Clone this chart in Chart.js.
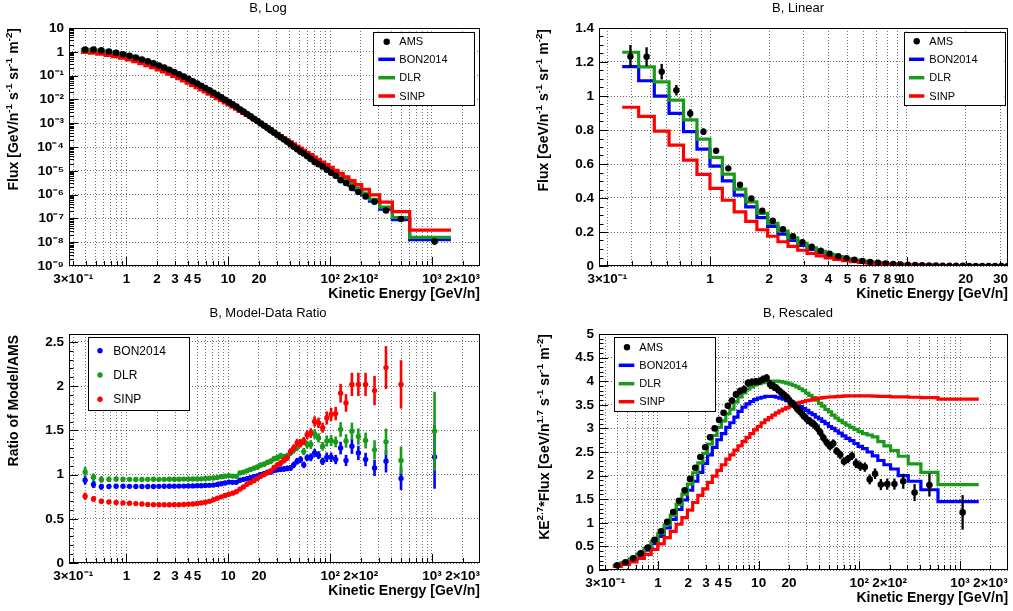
<!DOCTYPE html>
<html><head><meta charset="utf-8">
<script src="https://cdn.jsdelivr.net/npm/chart.js@4.4.1/dist/chart.umd.min.js"></script>
<style>
html,body{margin:0;padding:0;background:#fff;}
#wrap{position:relative;width:1013px;height:611px;overflow:hidden;background:#fff;}
canvas{position:absolute;display:block;}
</style></head><body>
<div id="wrap">
<canvas id="c1" width="506" height="305" style="left:0px;top:0px;width:506px;height:305px"></canvas>
<canvas id="c2" width="507" height="305" style="left:506px;top:0px;width:507px;height:305px"></canvas>
<canvas id="c3" width="506" height="306" style="left:0px;top:305px;width:506px;height:306px"></canvas>
<canvas id="c4" width="507" height="306" style="left:506px;top:305px;width:507px;height:306px"></canvas>
</div>
<script>
// ---------------- DATA ----------------
// Kinetic-energy bin edges [GeV/n] (67 bins)
const binEdges = [0.357, 0.433, 0.520, 0.618, 0.732, 0.857, 0.998, 1.154, 1.326, 1.518,
  1.730, 1.962, 2.214, 2.491, 2.791, 3.116, 3.470, 3.852, 4.264, 4.722,
  5.181, 5.687, 6.240, 6.840, 7.487, 8.180, 8.921, 9.708, 10.59, 11.52,
  12.49, 13.56, 14.67, 15.88, 17.18, 18.57, 20.06, 21.64, 23.36, 25.17,
  27.13, 29.22, 31.49, 33.91, 36.52, 39.31, 42.33, 45.58, 49.30, 53.02,
  57.21, 61.86, 67.44, 73.49, 80.46, 88.37, 97.21, 107.4, 119.5, 134.4,
  152.6, 175.4, 204.2, 243.3, 306.0, 408.4, 603.7, 1534];
// bin energies used for the KE^2.7 rescaling
const binMid = [0.393, 0.475, 0.567, 0.673, 0.792, 0.925, 1.073, 1.237, 1.419, 1.621,
  1.842, 2.084, 2.348, 2.637, 2.949, 3.288, 3.656, 4.053, 4.487, 4.946,
  5.428, 5.957, 6.533, 7.156, 7.826, 8.542, 9.306, 10.14, 11.05, 11.99,
  13.01, 14.10, 15.26, 16.52, 17.86, 19.30, 20.84, 22.48, 24.25, 26.13,
  28.16, 30.33, 32.68, 35.19, 37.89, 40.79, 43.92, 47.40, 51.13, 55.07,
  59.49, 64.59, 70.40, 76.90, 84.32, 92.69, 102.2, 113.3, 126.7, 143.2,
  163.6, 189.3, 222.9, 272.9, 353.5, 496.5, 962];
// AMS marker positions [GeV/n]
const amsPointE = [0.393, 0.475, 0.567, 0.673, 0.792, 0.925, 1.073, 1.237, 1.419, 1.621,
  1.842, 2.084, 2.348, 2.637, 2.949, 3.288, 3.656, 4.053, 4.487, 4.946,
  5.428, 5.957, 6.533, 7.156, 7.826, 8.542, 9.306, 10.14, 11.05, 11.99,
  13.01, 14.10, 15.26, 16.52, 17.86, 19.30, 20.84, 22.48, 24.25, 26.13,
  28.16, 30.33, 32.68, 35.19, 37.89, 40.79, 43.92, 47.40, 51.13, 55.07,
  59.49, 64.59, 70.40, 76.90, 84.32, 92.69, 102.2, 113.3, 126.7, 143.2,
  163.6, 189.3, 222.9, 272.9, 353.5, 496.5, 1060];
// KE^2.7 * Flux  [GeV/n^1.7 s^-1 sr^-1 m^-2]
const amsScaled = [0.099, 0.165, 0.247, 0.355, 0.478, 0.64, 0.82, 1.02, 1.23, 1.465,
  1.69, 1.93, 2.165, 2.395, 2.60, 2.81, 3.00, 3.18, 3.33, 3.48,
  3.59, 3.72, 3.79, 3.83, 3.96, 3.98, 3.99, 4.00, 4.04, 4.07,
  3.93, 3.89, 3.84, 3.77, 3.71, 3.65, 3.56, 3.50, 3.41, 3.34,
  3.26, 3.19, 3.14, 3.09, 3.02, 2.92, 2.80, 2.70, 2.62, 2.68,
  2.52, 2.44, 2.30, 2.35, 2.42, 2.26, 2.20, 2.18, 1.92, 2.04,
  1.81, 1.82, 1.82, 1.88, 1.64, 1.80, 1.22];
const bonScaled = [0.0942, 0.146, 0.216, 0.308, 0.421, 0.557, 0.711, 0.890, 1.073, 1.282,
  1.483, 1.69, 1.88, 2.07, 2.26, 2.44, 2.60, 2.76, 2.89, 3.02,
  3.12, 3.24, 3.36, 3.45, 3.52, 3.57, 3.61, 3.64, 3.66, 3.68,
  3.68, 3.68, 3.66, 3.64, 3.62, 3.59, 3.56, 3.53, 3.50, 3.46,
  3.42, 3.38, 3.33, 3.29, 3.24, 3.20, 3.15, 3.10, 3.04, 3.00,
  2.95, 2.90, 2.84, 2.79, 2.74, 2.68, 2.62, 2.57, 2.50, 2.42,
  2.32, 2.23, 2.14, 2.00, 1.88, 1.70, 1.45];
const dlrScaled = [0.101, 0.157, 0.234, 0.335, 0.458, 0.605, 0.773, 0.959, 1.163, 1.389,
  1.608, 1.82, 2.06, 2.27, 2.47, 2.67, 2.85, 3.02, 3.16, 3.31,
  3.41, 3.56, 3.67, 3.75, 3.83, 3.88, 3.92, 3.95, 3.97, 3.99,
  4.00, 4.00, 4.00, 3.99, 3.98, 3.96, 3.94, 3.91, 3.88, 3.84,
  3.80, 3.75, 3.70, 3.65, 3.60, 3.53, 3.47, 3.40, 3.35, 3.28,
  3.22, 3.17, 3.12, 3.07, 3.02, 2.98, 2.93, 2.89, 2.86, 2.82,
  2.72, 2.63, 2.53, 2.41, 2.25, 2.07, 1.81];
const sinpScaled = [0.075, 0.118, 0.1715, 0.244, 0.332, 0.437, 0.552, 0.687, 0.818, 0.969,
  1.11, 1.27, 1.43, 1.58, 1.72, 1.855, 1.99, 2.11, 2.23, 2.35,
  2.44, 2.54, 2.63, 2.72, 2.81, 2.89, 2.97, 3.04, 3.12, 3.18,
  3.23, 3.28, 3.33, 3.37, 3.41, 3.44, 3.47, 3.50, 3.53, 3.55,
  3.57, 3.59, 3.60, 3.62, 3.63, 3.64, 3.65, 3.66, 3.665, 3.67,
  3.675, 3.68, 3.685, 3.69, 3.69, 3.69, 3.69, 3.69, 3.69, 3.685,
  3.68, 3.68, 3.67, 3.67, 3.66, 3.65, 3.62];
// AMS relative uncertainty
const amsRelErr = [0.055, 0.045, 0.04, 0.03, 0.028, 0.025, 0.02, 0.019, 0.019, 0.018,
  0.018, 0.018, 0.018, 0.018, 0.018, 0.018, 0.018, 0.018, 0.018, 0.018,
  0.018, 0.02, 0.02, 0.02, 0.02, 0.02, 0.02, 0.02, 0.02, 0.02,
  0.024, 0.024, 0.024, 0.024, 0.024, 0.024, 0.027, 0.027, 0.027, 0.027,
  0.027, 0.03, 0.03, 0.03, 0.03, 0.03, 0.033, 0.033, 0.033, 0.033,
  0.033, 0.037, 0.037, 0.037, 0.037, 0.045, 0.045, 0.045, 0.055, 0.055,
  0.065, 0.065, 0.065, 0.085, 0.11, 0.135, 0.30];
// Model / AMS ratios
const bonRatio = [0.936, 0.887, 0.862, 0.866, 0.868, 0.868, 0.867, 0.866, 0.866, 0.866,
  0.866, 0.867, 0.868, 0.868, 0.869, 0.870, 0.870, 0.871, 0.872, 0.873,
  0.874, 0.876, 0.878, 0.881, 0.889, 0.897, 0.905, 0.915, 0.912, 0.912,
  0.936, 0.946, 0.953, 0.966, 0.976, 0.984, 1.0, 1.009, 1.026, 1.03,
  1.045, 1.057, 1.06, 1.064, 1.07, 1.075, 1.11, 1.15, 1.17, 1.11,
  1.19, 1.196, 1.245, 1.22, 1.15, 1.196, 1.196, 1.17, 1.30, 1.16,
  1.32, 1.245, 1.17, 1.075, 1.15, 0.955, 1.20];
const dlrRatio = [1.03, 0.97, 0.945, 0.948, 0.95, 0.948, 0.946, 0.945, 0.945, 0.946,
  0.947, 0.946, 0.946, 0.947, 0.948, 0.948, 0.949, 0.950, 0.950, 0.951,
  0.952, 0.955, 0.958, 0.962, 0.967, 0.975, 0.982, 0.988, 0.983, 0.98,
  1.018, 1.028, 1.042, 1.058, 1.073, 1.085, 1.107, 1.117, 1.138, 1.15,
  1.18, 1.19, 1.21, 1.20, 1.21, 1.245, 1.28, 1.31, 1.36, 1.26,
  1.34, 1.34, 1.46, 1.415, 1.32, 1.38, 1.385, 1.37, 1.51, 1.38,
  1.49, 1.43, 1.385, 1.28, 1.37, 1.16, 1.49];
const sinpRatio = [0.755, 0.725, 0.698, 0.69, 0.685, 0.68, 0.675, 0.672, 0.667, 0.663,
  0.66, 0.658, 0.658, 0.659, 0.66, 0.66, 0.662, 0.664, 0.668, 0.673,
  0.68, 0.687, 0.697, 0.715, 0.733, 0.748, 0.763, 0.778, 0.79, 0.805,
  0.835, 0.86, 0.89, 0.91, 0.93, 0.955, 0.98, 1.0, 1.02, 1.04,
  1.08, 1.11, 1.13, 1.16, 1.19, 1.26, 1.30, 1.36, 1.35, 1.38,
  1.45, 1.47, 1.60, 1.585, 1.53, 1.64, 1.68, 1.69, 1.92, 1.81,
  2.02, 2.02, 2.02, 1.95, 2.21, 2.02, 2.97];

// tick labels
const xTickValsWide = [0.3, 1, 2, 3, 4, 5, 10, 20, 100, 200, 1000, 2000];
const xTickTxtWide = ['3×10⁻¹', '1', '2', '3', '4', '5', '10', '20', '10²', '2×10²', '10³', '2×10³'];
const xTickValsLin = [0.3, 1, 2, 3, 4, 5, 6, 7, 8, 9, 10, 20, 30];
const xTickTxtLin = ['3×10⁻¹', '1', '2', '3', '4', '5', '6', '7', '8', '9', '10', '20', '30'];
const yTickValsLog = [1e-9, 1e-8, 1e-7, 1e-6, 1e-5, 1e-4, 1e-3, 1e-2, 1e-1, 1, 10];
const yTickTxtLog = ['10⁻⁹', '10⁻⁸', '10⁻⁷', '10⁻⁶', '10⁻⁵', '10⁻⁴', '10⁻³', '10⁻²', '10⁻¹', '1', '10'];
const yTickValsFlux = [0, 0.2, 0.4, 0.6, 0.8, 1, 1.2, 1.4];
const yTickTxtFlux = ['0', '0.2', '0.4', '0.6', '0.8', '1', '1.2', '1.4'];
const yTickValsRatio = [0, 0.5, 1, 1.5, 2, 2.5];
const yTickTxtRatio = ['0', '0.5', '1', '1.5', '2', '2.5'];
const yTickValsScaled = [0, 0.5, 1, 1.5, 2, 2.5, 3, 3.5, 4, 4.5, 5];
const yTickTxtScaled = ['0', '0.5', '1', '1.5', '2', '2.5', '3', '3.5', '4', '4.5', '5'];

// ---------------- STYLE ----------------
const FONT = '"Liberation Sans", Arial, Helvetica, sans-serif';
const C_BON = '#0000ff', C_DLR = '#1a9a1a', C_SINP = '#ff0000', C_AMS = '#000000';
Chart.defaults.font.family = FONT;
Chart.defaults.color = '#000';
const tickFont = { family: FONT, size: 13.5, weight: 'bold' };

// ---------------- HELPERS ----------------
const pow27 = binMid.map(e => Math.pow(e, 2.7));
const toFlux = arr => arr.map((v, i) => v / pow27[i]);
const amsFlux = toFlux(amsScaled), bonFlux = toFlux(bonScaled), dlrFlux = toFlux(dlrScaled), sinpFlux = toFlux(sinpScaled);

function stepPts(vals) {
  const p = vals.map((v, i) => ({ x: binEdges[i], y: v }));
  p.push({ x: binEdges[vals.length], y: vals[vals.length - 1] });
  return p;
}
function markPts(vals) { return vals.map((v, i) => ({ x: amsPointE[i], y: v })); }
function errs(vals) { return vals.map((v, i) => v * amsRelErr[i]); }

function logValues(min, max) {
  const out = [];
  for (let e = -10; e <= 4; e++) for (let k = 1; k <= 9; k++) {
    const v = k * Math.pow(10, e);
    if (v >= min * 1.0000001 && v <= max * 0.9999999) out.push({ v, k });
  }
  return out;
}
function logMarks(min, max) { return logValues(min, max).map(o => ({ v: o.v, len: o.k === 1 ? 9 : 5 })); }
function linMarks(min, max, major, nsub) {
  const out = [];
  for (let k = 0; ; k++) { const v = k * major / nsub; if (v > max + 1e-9) break; if (v >= min) out.push({ v, len: k % nsub === 0 ? 9 : 4.5 }); }
  return out;
}
function labeler(vals, txt) {
  return function (v) {
    for (let i = 0; i < vals.length; i++) {
      const t = vals[i];
      if (t === 0 ? Math.abs(v) < 1e-12 : Math.abs(v / t - 1) < 1e-6) return txt[i];
    }
    return '';
  };
}
function xLog(min, max, H, gridVals, lv, lt) {
  return {
    type: 'logarithmic', position: 'bottom', min, max,
    afterBuildTicks: ax => { ax.ticks = gridVals.map(v => ({ value: v })); },
    afterFit: ax => { ax.height = H; },
    ticks: { autoSkip: false, maxRotation: 0, minRotation: 0, padding: 5, font: tickFont, color: '#000', callback: labeler(lv, lt) },
    grid: { drawTicks: false, color: 'rgba(0,0,0,0.55)', lineWidth: 1 },
    border: { display: false, dash: [1, 2] }
  };
}
function yScale(type, min, max, W, tickVals, lt) {
  return {
    type, position: 'left', min, max,
    afterBuildTicks: ax => { ax.ticks = tickVals.map(v => ({ value: v })); },
    afterFit: ax => { ax.width = W; },
    ticks: { autoSkip: false, padding: 5, font: tickFont, color: '#000', callback: labeler(tickVals, lt) },
    grid: { drawTicks: false, color: 'rgba(0,0,0,0.55)', lineWidth: 1 },
    border: { display: false, dash: [1, 2] }
  };
}

// rich text (superscripts)
function richWidth(ctx, segs, size, weight) {
  let w = 0;
  segs.forEach(s => { ctx.font = weight + ' ' + (s.sup ? size * 0.7 : size) + 'px ' + FONT; w += ctx.measureText(s.t).width; });
  return w;
}
function drawRich(ctx, segs, x, y, size, weight) {
  let cx = x;
  ctx.textBaseline = 'middle'; ctx.textAlign = 'left';
  segs.forEach(s => {
    const fs = s.sup ? size * 0.7 : size;
    ctx.font = weight + ' ' + fs + 'px ' + FONT;
    ctx.fillText(s.t, cx, s.sup ? y - size * 0.36 : y);
    cx += ctx.measureText(s.t).width;
  });
}

const errorBars = {
  id: 'errorBars',
  afterDatasetDraw(chart, args) {
    const ds = chart.data.datasets[args.index];
    if (!ds.errors) return;
    const { ctx, chartArea: a } = chart; const xs = chart.scales.x, ys = chart.scales.y;
    ctx.save();
    ctx.beginPath(); ctx.rect(a.left, a.top, a.right - a.left, a.bottom - a.top); ctx.clip();
    ctx.strokeStyle = ds.errColor; ctx.lineWidth = ds.errWidth; ctx.lineCap = 'butt';
    ds.data.forEach((p, i) => {
      if (p.x < xs.min || p.x > xs.max || p.y < ys.min || p.y > ys.max) return;
      const e = ds.errors[i];
      const px = xs.getPixelForValue(p.x);
      const lo = Math.max(p.y - e, ys.min > 0 ? ys.min : p.y - e);
      ctx.beginPath(); ctx.moveTo(px, ys.getPixelForValue(p.y + e)); ctx.lineTo(px, ys.getPixelForValue(lo)); ctx.stroke();
    });
    ctx.restore();
  }
};

function decor(cfg) {
  return {
    id: 'decor',
    beforeDatasetsDraw(chart) {
      const { ctx, chartArea: a } = chart; const xs = chart.scales.x, ys = chart.scales.y;
      ctx.save(); ctx.strokeStyle = '#000'; ctx.lineWidth = 1;
      cfg.xMarks.forEach(m => {
        const p = Math.round(xs.getPixelForValue(m.v)) + 0.5;
        if (p < a.left || p > a.right) return;
        ctx.beginPath(); ctx.moveTo(p, a.bottom); ctx.lineTo(p, a.bottom - m.len); ctx.stroke();
      });
      cfg.yMarks.forEach(m => {
        const p = Math.round(ys.getPixelForValue(m.v)) + 0.5;
        if (p < a.top - 1 || p > a.bottom + 1) return;
        ctx.beginPath(); ctx.moveTo(a.left, p); ctx.lineTo(a.left + m.len, p); ctx.stroke();
      });
      ctx.strokeRect(Math.round(a.left) + 0.5, Math.round(a.top) + 0.5, Math.round(a.right - a.left) - 1, Math.round(a.bottom - a.top) - 1);
      ctx.restore();
    },
    afterDraw(chart) {
      const { ctx, chartArea: a } = chart;
      ctx.save();
      ctx.fillStyle = '#000';
      // title
      ctx.font = '13px ' + FONT; ctx.textAlign = 'center'; ctx.textBaseline = 'middle';
      ctx.fillText(cfg.title, cfg.titleX, cfg.titleY);
      // x title (right aligned at frame end)
      const xw = richWidth(ctx, cfg.xTitle, 14, 'bold');
      drawRich(ctx, cfg.xTitle, a.right - xw, a.bottom + cfg.xTitleDy, 14, 'bold');
      // y title (rotated, end at frame top)
      ctx.save();
      ctx.translate(cfg.yTitleX, a.top + cfg.yTitleDy);
      ctx.rotate(-Math.PI / 2);
      const yw = richWidth(ctx, cfg.yTitle, 14, 'bold');
      drawRich(ctx, cfg.yTitle, -yw, 0, 14, 'bold');
      ctx.restore();
      // legend
      const L = cfg.legend;
      ctx.fillStyle = '#fff';
      ctx.fillRect(L.box[0], L.box[1], L.box[2] - L.box[0], L.box[3] - L.box[1]);
      ctx.strokeStyle = '#000'; ctx.lineWidth = 1;
      ctx.strokeRect(Math.round(L.box[0]) + 0.5, Math.round(L.box[1]) + 0.5, Math.round(L.box[2] - L.box[0]), Math.round(L.box[3] - L.box[1]));
      L.entries.forEach(e => {
        if (e.kind === 'line') {
          ctx.strokeStyle = e.color; ctx.lineWidth = 3.5; ctx.lineCap = 'butt';
          ctx.beginPath(); ctx.moveTo(L.lineX[0], e.y); ctx.lineTo(L.lineX[1], e.y); ctx.stroke();
        } else {
          ctx.fillStyle = e.color; ctx.beginPath(); ctx.arc(L.markX, e.y, e.r, 0, Math.PI * 2); ctx.fill();
        }
        ctx.fillStyle = '#000'; ctx.font = L.font + 'px ' + FONT; ctx.textAlign = 'left'; ctx.textBaseline = 'middle';
        ctx.fillText(e.label, L.textX, e.y + 0.5);
      });
      ctx.restore();
    }
  };
}

function stepDS(label, vals, color) {
  return { label, data: stepPts(vals), borderColor: color, backgroundColor: color, borderWidth: 3.2,
    pointRadius: 0, pointHoverRadius: 0, stepped: 'before', fill: false, tension: 0,
    borderJoinStyle: 'miter', borderCapStyle: 'butt' };
}
function markDS(label, vals, color, r, errW) {
  return { label, data: markPts(vals), showLine: false, borderColor: color, backgroundColor: color,
    pointRadius: r, pointHoverRadius: r, pointBackgroundColor: color, pointBorderWidth: 0, pointBorderColor: color,
    errors: errs(vals), errColor: color, errWidth: errW };
}

function makeChart(id, cfg) {
  return new Chart(document.getElementById(id), {
    type: 'line',
    data: { datasets: cfg.datasets },
    options: {
      responsive: false, animation: false, devicePixelRatio: 1, events: [],
      layout: { padding: cfg.padding },
      plugins: { legend: { display: false }, tooltip: { enabled: false }, title: { display: false } },
      scales: { x: cfg.x, y: cfg.y }
    },
    plugins: [errorBars, decor(cfg.decor)]
  });
}

const fluxTitle = [{ t: 'Flux [GeV/n' }, { t: '-1', sup: true }, { t: ' s' }, { t: '-1', sup: true }, { t: ' sr' }, { t: '-1', sup: true }, { t: ' m' }, { t: '-2', sup: true }, { t: ']' }];
const keTitle = [{ t: 'Kinetic Energy [GeV/n]' }];
const scaledTitle = [{ t: 'KE' }, { t: '2.7', sup: true }, { t: '*Flux [GeV/n' }, { t: '1.7', sup: true }, { t: ' s' }, { t: '-1', sup: true }, { t: ' sr' }, { t: '-1', sup: true }, { t: ' m' }, { t: '-2', sup: true }, { t: ']' }];

const gridWide = logValues(0.273, 2960).map(o => o.v);
const gridLin = logValues(0.272, 32.8).map(o => o.v);
const gridWide4 = logValues(0.26, 3000).map(o => o.v);

// ---------- Panel 1: B, Log ----------
makeChart('c1', {
  padding: { top: 28, right: 26, left: 0, bottom: 0 },
  x: xLog(0.273, 2960, 39, gridWide, xTickValsWide, xTickTxtWide),
  y: yScale('logarithmic', 1e-9, 10, 69, yTickValsLog, yTickTxtLog),
  datasets: [markDS('AMS', amsFlux, C_AMS, 3.3, 2), stepDS('SINP', sinpFlux, C_SINP), stepDS('DLR', dlrFlux, C_DLR), stepDS('BON2014', bonFlux, C_BON)],
  decor: {
    title: 'B, Log', titleX: 268, titleY: 8.5,
    xTitle: keTitle, xTitleDy: 27.8, yTitle: fluxTitle, yTitleX: 14, yTitleDy: 0,
    xMarks: logMarks(0.273, 2960), yMarks: logMarks(1e-9, 10),
    legend: { box: [373.3, 31.7, 474, 105], markX: 386.7, lineX: [378.3, 395], textX: 399.3, font: 11,
      entries: [{ label: 'AMS', kind: 'mark', color: C_AMS, y: 41.7, r: 3.2 }, { label: 'BON2014', kind: 'line', color: C_BON, y: 59.3 },
        { label: 'DLR', kind: 'line', color: C_DLR, y: 77.7 }, { label: 'SINP', kind: 'line', color: C_SINP, y: 96 }] }
  }
});

// ---------- Panel 2: B, Linear ----------
makeChart('c2', {
  padding: { top: 28, right: 4, left: 0, bottom: 0 },
  x: xLog(0.272, 32.8, 39, gridLin, xTickValsLin, xTickTxtLin),
  y: yScale('linear', 0, 1.4, 93, yTickValsFlux, yTickTxtFlux),
  datasets: [markDS('AMS', amsFlux, C_AMS, 3.2, 2.3), stepDS('SINP', sinpFlux, C_SINP), stepDS('DLR', dlrFlux, C_DLR), stepDS('BON2014', bonFlux, C_BON)],
  decor: {
    title: 'B, Linear', titleX: 292, titleY: 8.5,
    xTitle: keTitle, xTitleDy: 27.8, yTitle: fluxTitle, yTitleX: 38.5, yTitleDy: 1,
    xMarks: logMarks(0.272, 32.8), yMarks: linMarks(0, 1.4, 0.2, 4),
    legend: { box: [397.7, 31.7, 498.3, 105], markX: 410.7, lineX: [403, 418.3], textX: 423.3, font: 11,
      entries: [{ label: 'AMS', kind: 'mark', color: C_AMS, y: 41.3, r: 3.2 }, { label: 'BON2014', kind: 'line', color: C_BON, y: 59.3 },
        { label: 'DLR', kind: 'line', color: C_DLR, y: 77.7 }, { label: 'SINP', kind: 'line', color: C_SINP, y: 96 }] }
  }
});

// ---------- Panel 3: B, Model-Data Ratio ----------
makeChart('c3', {
  padding: { top: 29, right: 26, left: 0, bottom: 0 },
  x: xLog(0.273, 2960, 48, gridWide, xTickValsWide, xTickTxtWide),
  y: yScale('linear', 0, 2.59, 69, yTickValsRatio, yTickTxtRatio),
  datasets: [markDS('SINP', sinpRatio, C_SINP, 2.7, 2.6), markDS('DLR', dlrRatio, C_DLR, 2.7, 2.6), markDS('BON2014', bonRatio, C_BON, 2.7, 2.6)],
  decor: {
    title: 'B, Model-Data Ratio', titleX: 268, titleY: 8.3,
    xTitle: keTitle, xTitleDy: 28.5, yTitle: [{ t: 'Ratio of Model/AMS' }], yTitleX: 14, yTitleDy: 1,
    xMarks: logMarks(0.273, 2960), yMarks: linMarks(0, 2.59, 0.5, 5),
    legend: { box: [87.7, 32.3, 188.3, 105], markX: 100, lineX: [92, 108], textX: 113.3, font: 12,
      entries: [{ label: 'BON2014', kind: 'mark', color: C_BON, y: 45.7, r: 2.7 }, { label: 'DLR', kind: 'mark', color: C_DLR, y: 70, r: 2.7 },
        { label: 'SINP', kind: 'mark', color: C_SINP, y: 94.3, r: 2.7 }] }
  }
});

// ---------- Panel 4: B, Rescaled ----------
makeChart('c4', {
  padding: { top: 29, right: 4, left: 0, bottom: 0 },
  x: xLog(0.26, 3000, 41, gridWide4, xTickValsWide, xTickTxtWide),
  y: yScale('linear', 0, 5, 93, yTickValsScaled, yTickTxtScaled),
  datasets: [markDS('AMS', amsScaled, C_AMS, 3.3, 2.3), stepDS('SINP', sinpScaled, C_SINP), stepDS('DLR', dlrScaled, C_DLR), stepDS('BON2014', bonScaled, C_BON)],
  decor: {
    title: 'B, Rescaled', titleX: 292, titleY: 8.3,
    xTitle: keTitle, xTitleDy: 28, yTitle: scaledTitle, yTitleX: 39, yTitleDy: 0,
    xMarks: logMarks(0.26, 3000), yMarks: linMarks(0, 5, 0.5, 5),
    legend: { box: [108.3, 32.3, 209, 106], markX: 121, lineX: [112.7, 128.3], textX: 133.3, font: 11,
      entries: [{ label: 'AMS', kind: 'mark', color: C_AMS, y: 42.3, r: 3.2 }, { label: 'BON2014', kind: 'line', color: C_BON, y: 60.3 },
        { label: 'DLR', kind: 'line', color: C_DLR, y: 78.7 }, { label: 'SINP', kind: 'line', color: C_SINP, y: 96.7 }] }
  }
});
</script>
</body></html>
